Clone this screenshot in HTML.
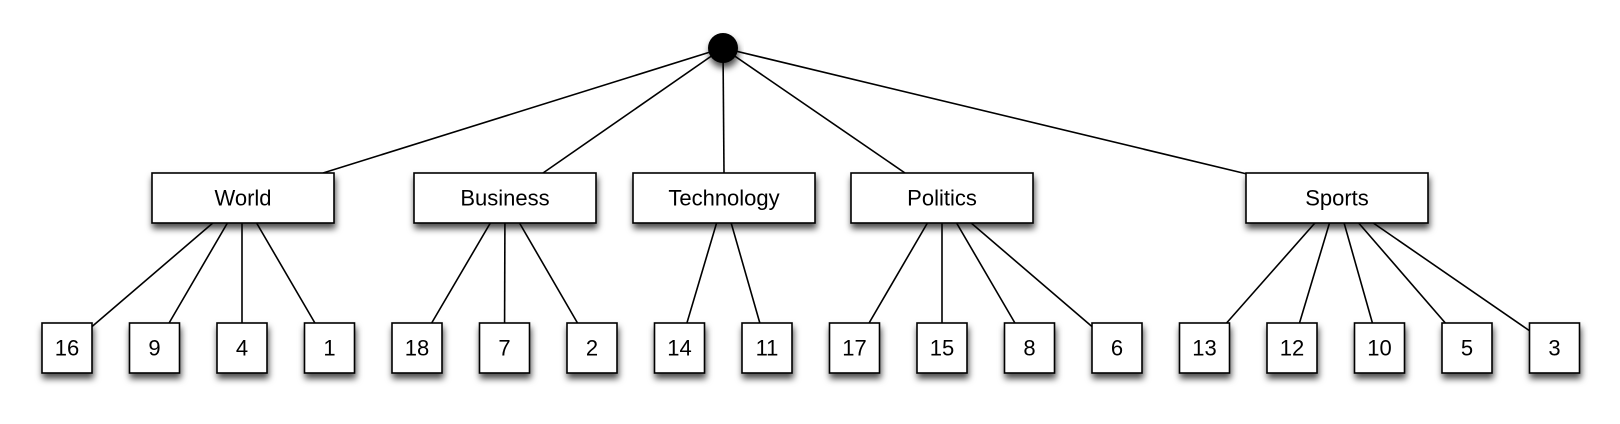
<!DOCTYPE html>
<html><head><meta charset="utf-8"><style>
html,body{margin:0;padding:0;background:#fff;}
svg{display:block;}
text{font-family:"Liberation Sans",Arial,sans-serif;font-size:22px;fill:#000;text-anchor:middle;dominant-baseline:central;}
</style></head><body>
<svg width="1620" height="424" viewBox="0 0 1620 424" xmlns="http://www.w3.org/2000/svg">
<defs>
<filter id="sh" x="-20%" y="-30%" width="140%" height="180%">
<feDropShadow dx="1" dy="5" stdDeviation="3.5" flood-color="#000" flood-opacity="0.7"/>
</filter>
</defs>
<g stroke="#000" stroke-width="1.6" fill="none">
<line x1="723" y1="48" x2="323" y2="173"/>
<line x1="723" y1="48" x2="543" y2="173"/>
<line x1="723" y1="48" x2="724" y2="173"/>
<line x1="723" y1="48" x2="905" y2="173"/>
<line x1="723" y1="48" x2="1247" y2="174"/>
<line x1="242" y1="198" x2="67" y2="348"/>
<line x1="242" y1="198" x2="154.5" y2="348"/>
<line x1="242" y1="198" x2="242" y2="348"/>
<line x1="242" y1="198" x2="329.5" y2="348"/>
<line x1="505" y1="198" x2="417" y2="348"/>
<line x1="505" y1="198" x2="504.5" y2="348"/>
<line x1="505" y1="198" x2="592" y2="348"/>
<line x1="724" y1="198" x2="679.5" y2="348"/>
<line x1="724" y1="198" x2="767" y2="348"/>
<line x1="942" y1="198" x2="854.5" y2="348"/>
<line x1="942" y1="198" x2="942" y2="348"/>
<line x1="942" y1="198" x2="1029.5" y2="348"/>
<line x1="942" y1="198" x2="1117" y2="348"/>
<line x1="1337" y1="198" x2="1204.5" y2="348"/>
<line x1="1337" y1="198" x2="1292" y2="348"/>
<line x1="1337" y1="198" x2="1379.5" y2="348"/>
<line x1="1337" y1="198" x2="1467" y2="348"/>
<line x1="1337" y1="198" x2="1554.5" y2="348"/>
</g>
<circle cx="723" cy="48" r="15" fill="#000" filter="url(#sh)"/>
<g fill="#fff" stroke="#000" stroke-width="1.6" filter="url(#sh)">
<rect x="152" y="173" width="182" height="50"/>
<rect x="414" y="173" width="182" height="50"/>
<rect x="633" y="173" width="182" height="50"/>
<rect x="851" y="173" width="182" height="50"/>
<rect x="1246" y="173" width="182" height="50"/>
<rect x="42" y="323" width="50" height="50"/>
<rect x="129.5" y="323" width="50" height="50"/>
<rect x="217" y="323" width="50" height="50"/>
<rect x="304.5" y="323" width="50" height="50"/>
<rect x="392" y="323" width="50" height="50"/>
<rect x="479.5" y="323" width="50" height="50"/>
<rect x="567" y="323" width="50" height="50"/>
<rect x="654.5" y="323" width="50" height="50"/>
<rect x="742" y="323" width="50" height="50"/>
<rect x="829.5" y="323" width="50" height="50"/>
<rect x="917" y="323" width="50" height="50"/>
<rect x="1004.5" y="323" width="50" height="50"/>
<rect x="1092" y="323" width="50" height="50"/>
<rect x="1179.5" y="323" width="50" height="50"/>
<rect x="1267" y="323" width="50" height="50"/>
<rect x="1354.5" y="323" width="50" height="50"/>
<rect x="1442" y="323" width="50" height="50"/>
<rect x="1529.5" y="323" width="50" height="50"/>
</g>
<text x="243" y="198">World</text>
<text x="505" y="198">Business</text>
<text x="724" y="198">Technology</text>
<text x="942" y="198">Politics</text>
<text x="1337" y="198">Sports</text>
<text x="67" y="348">16</text>
<text x="154.5" y="348">9</text>
<text x="242" y="348">4</text>
<text x="329.5" y="348">1</text>
<text x="417" y="348">18</text>
<text x="504.5" y="348">7</text>
<text x="592" y="348">2</text>
<text x="679.5" y="348">14</text>
<text x="767" y="348">11</text>
<text x="854.5" y="348">17</text>
<text x="942" y="348">15</text>
<text x="1029.5" y="348">8</text>
<text x="1117" y="348">6</text>
<text x="1204.5" y="348">13</text>
<text x="1292" y="348">12</text>
<text x="1379.5" y="348">10</text>
<text x="1467" y="348">5</text>
<text x="1554.5" y="348">3</text>
</svg>
</body></html>
